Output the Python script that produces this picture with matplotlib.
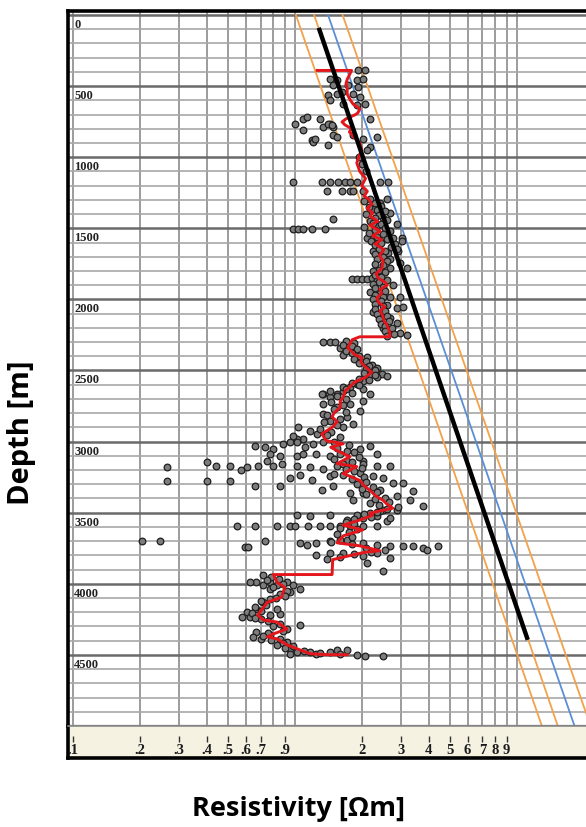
"""
Resistivity vs depth log plot (log x, depth downwards), recreated from a scanned figure.
Output: out.png
"""

import numpy as np
import matplotlib
matplotlib.use("Agg")
import matplotlib.pyplot as plt
from matplotlib.transforms import blended_transform_factory


# --- data ----------------------------------------------------------------------

# running average (red), as (depth m, resistivity ohm-m)
red_curve = [
    (390, 1.26), (390, 1.80), (453, 1.72), (480, 1.70), (520, 1.72), (557, 1.72),
    (600, 1.78), (627, 1.83), (660, 1.96), (690, 1.92), (703, 1.86), (730, 1.70),
    (752, 1.63), (773, 1.68), (800, 1.80), (822, 1.76), (857, 1.84), (900, 1.96),
    (947, 2.00), (990, 1.95), (1040, 1.90), (1100, 1.96), (1150, 2.08), (1200, 2.00),
    (1240, 2.12), (1274, 2.05), (1295, 2.15), (1330, 2.22), (1360, 2.12), (1393, 2.24),
    (1414, 2.18), (1450, 2.36), (1480, 2.18), (1520, 2.42), (1553, 2.24), (1580, 2.46),
    (1610, 2.30), (1650, 2.52), (1692, 2.40), (1730, 2.50), (1783, 2.46), (1820, 2.32),
    (1852, 2.38), (1880, 2.55), (1901, 2.60), (1930, 2.42), (1957, 2.46), (1990, 2.34),
    (2020, 2.38), (2054, 2.54), (2080, 2.42), (2110, 2.48), (2150, 2.52), (2180, 2.60),
    (2235, 2.68), (2263, 2.68), (2263, 1.96), (2284, 1.81), (2340, 1.73), (2389, 1.86),
    (2410, 2.00), (2440, 1.98), (2472, 2.07), (2514, 2.22), (2549, 2.07), (2584, 1.85),
    (2620, 1.75), (2646, 1.68), (2688, 1.65), (2716, 1.60), (2758, 1.60), (2800, 1.50),
    (2827, 1.47), (2860, 1.55), (2897, 1.48), (2946, 1.32), (2995, 1.39), (3015, 1.65),
    (3040, 1.45), (3064, 1.55), (3106, 1.77), (3155, 1.55), (3176, 1.90), (3224, 1.65),
    (3273, 1.96), (3310, 2.05), (3343, 2.18), (3380, 2.30), (3412, 2.49), (3440, 2.60),
    (3468, 2.76), (3503, 2.18), (3517, 2.24), (3552, 1.96), (3587, 1.65), (3621, 2.02),
    (3663, 1.65), (3712, 1.55), (3733, 1.96), (3767, 2.41), (3781, 2.02), (3830, 1.48),
    (3935, 1.47), (3935, 0.80), (3990, 0.83), (4025, 0.90), (4095, 0.87), (4130, 0.75),
    (4220, 0.68), (4255, 0.72), (4269, 0.83), (4318, 0.92), (4352, 0.80), (4373, 0.75),
    (4387, 0.83), (4429, 0.92), (4464, 1.05), (4492, 1.17), (4499, 1.44), (4499, 1.72),
]

# measured points (grey circles), split by depth zone
pts_upper = [
    (390, 1.92), (390, 2.07), (453, 1.44), (460, 1.55), (460, 1.90), (453, 2.02),
    (494, 1.48), (494, 1.73), (508, 1.92), (564, 1.41), (557, 1.55), (543, 1.63),
    (557, 1.82), (578, 1.96), (599, 1.44), (627, 1.65), (634, 1.90), (627, 2.07),
    (731, 2.18), (766, 1.00), (731, 1.09), (717, 1.13), (731, 1.30), (766, 1.44),
    (787, 1.48), (808, 1.09), (877, 1.19), (891, 1.21), (870, 1.23), (912, 1.41),
    (843, 1.48), (857, 1.55), (787, 1.34), (766, 1.41), (773, 1.47), (843, 1.82),
    (870, 2.02), (857, 2.34), (926, 2.18), (947, 2.11), (1000, 1.95), (1050, 2.00),
    (1100, 2.10), (1177, 0.98), (1177, 1.32), (1177, 1.44), (1177, 1.56), (1177, 1.68),
    (1177, 1.77), (1177, 1.90), (1177, 2.41), (1177, 2.62), (1240, 1.39), (1240, 1.63),
    (1240, 1.77), (1240, 1.82), (1240, 2.02), (1295, 2.18), (1323, 2.41), (1295, 2.60),
    (1365, 2.24), (1393, 2.68), (1435, 1.48), (1504, 0.98), (1504, 1.03), (1504, 1.09),
    (1504, 1.19), (1504, 1.36), (1449, 2.18), (1483, 2.34), (1428, 2.49), (1518, 2.68),
    (1469, 2.88), (1553, 2.22), (1588, 2.41), (1609, 2.82), (1567, 3.03), (1657, 2.29),
    (1671, 2.62), (1657, 2.91),
]

pts_middle = [
    (1567, 2.11), (1574, 2.34), (1567, 2.76), (1588, 3.03), (1643, 2.88), (1657, 2.24),
    (1692, 2.41), (1713, 2.68), (1741, 2.97), (1776, 3.20), (1776, 2.68), (1860, 1.81),
    (1860, 1.90), (1860, 2.00), (1860, 2.11), (1852, 2.22), (1866, 2.34), (1866, 2.60),
    (1901, 2.76), (1950, 2.18), (1957, 2.41), (1985, 2.68), (1985, 2.97), (2020, 2.34),
    (2040, 2.60), (2061, 2.88), (2054, 3.07), (2089, 2.24), (2124, 2.41), (2131, 2.68),
    (2166, 2.88), (2201, 2.49), (2215, 2.68), (2235, 2.97), (2249, 3.20), (2298, 1.34),
    (2298, 1.44), (2298, 1.51), (2340, 1.60), (2319, 1.72), (2368, 1.81), (2389, 1.65),
    (2410, 1.90), (2437, 2.00), (2403, 2.11), (2458, 2.22), (2479, 2.34), (2528, 2.46),
    (2542, 2.60), (2528, 2.18), (2549, 2.34), (2577, 2.02), (2598, 1.90), (2618, 1.77),
    (2646, 1.65), (2667, 1.55), (2688, 1.44), (2667, 1.34),
]

pts_lower = [
    (2667, 1.32), (2646, 1.44), (2618, 1.65), (2632, 2.02), (2667, 2.18), (2716, 2.02),
    (2737, 1.34), (2758, 1.55), (2737, 1.77), (2786, 1.96), (2806, 1.34), (2855, 1.44),
    (2827, 1.72), (2876, 1.82), (2897, 1.65), (2897, 1.03), (2925, 1.17), (2946, 1.26),
    (2981, 1.09), (2981, 1.02), (2960, 0.98), (3029, 0.66), (3036, 0.73), (3050, 0.80),
    (3015, 0.88), (3001, 0.95), (3001, 1.02), (3036, 1.11), (3015, 1.21), (3001, 1.34),
    (3085, 0.77), (3099, 0.86), (3099, 1.02), (3085, 1.09), (3085, 1.25), (3099, 1.44),
    (3064, 1.72), (3050, 1.96), (3029, 2.18), (3085, 2.34), (3134, 2.02), (3134, 1.72),
    (3176, 0.265), (3141, 0.40), (3169, 0.44), (3169, 0.51), (3203, 0.57), (3176, 0.61),
    (3169, 0.68), (3134, 0.75), (3169, 0.80), (3155, 0.87), (3169, 1.02), (3176, 1.17),
    (3190, 1.34), (3169, 1.55), (3176, 1.77), (3155, 2.02), (3169, 2.34), (3169, 2.68),
    (3280, 0.265), (3280, 0.40), (3280, 0.51), (3315, 0.66), (3315, 0.86), (3259, 0.95),
    (3238, 1.05), (3273, 1.19), (3245, 1.44), (3238, 1.65), (3224, 1.96), (3245, 2.24),
    (3259, 2.49), (3343, 1.32), (3315, 1.48), (3364, 1.77), (3364, 2.02), (3343, 2.41),
    (3294, 2.76), (3294, 3.07), (3350, 3.40), (3385, 2.88), (3412, 3.30), (3454, 3.77),
    (3412, 1.82), (3433, 2.18), (3482, 2.49), (3517, 1.02), (3524, 1.17), (3517, 1.44),
    (3552, 1.72), (3538, 2.02), (3524, 2.34), (3559, 2.60), (3593, 0.55), (3593, 0.66),
    (3593, 0.83), (3593, 0.95), (3593, 1.00), (3593, 1.14), (3593, 1.30), (3593, 1.44),
    (3593, 1.60), (3593, 1.77), (3593, 2.02), (3593, 2.34),
]

pts_bottom = [
    (3517, 1.90), (3503, 2.18), (3489, 2.41), (3482, 2.88), (3538, 2.68), (3698, 0.205),
    (3698, 0.246), (3740, 0.595), (3740, 0.614), (3698, 0.733), (3712, 1.05), (3726, 1.13),
    (3712, 1.25), (3698, 1.44), (3691, 1.72), (3712, 2.02), (3726, 2.34), (3733, 2.68),
    (3733, 3.07), (3733, 3.40), (3747, 3.77), (3733, 4.41), (3761, 3.93), (3795, 1.25),
    (3781, 1.44), (3781, 1.65), (3802, 2.02), (3781, 2.34), (3816, 2.68), (3851, 2.11),
    (3907, 2.49), (3935, 0.72), (3990, 0.67), (3990, 0.63), (3990, 0.77), (4011, 0.83),
    (3990, 0.92), (4011, 0.98), (4039, 1.05), (4060, 0.95), (4074, 0.86), (4039, 0.77),
    (4011, 0.72), (4109, 0.77), (4130, 0.72), (4178, 0.67), (4199, 0.61), (4234, 0.58),
    (4234, 0.63), (4248, 0.70), (4220, 0.77), (4213, 0.86), (4178, 0.83), (4339, 0.67),
    (4373, 0.65), (4387, 0.70), (4360, 0.77), (4387, 0.86), (4408, 0.92), (4429, 0.83),
    (4457, 0.95), (4478, 1.02), (4492, 0.95), (4290, 1.05), (4318, 0.92), (4478, 1.17),
    (4492, 1.25), (4478, 1.44), (4464, 1.55), (4464, 1.72), (4499, 1.90), (4506, 2.07),
    (4506, 2.49),
]

# the dense, overlapping points that hug the running average
pts_band = [
    (1310, 2.05), (1320, 2.30), (1340, 2.45), (1350, 2.15), (1370, 2.35), (1380, 2.55),
    (1400, 2.10), (1410, 2.40), (1430, 2.30), (1440, 2.60), (1460, 2.25), (1470, 2.45),
    (1490, 2.05), (1500, 2.55), (1510, 2.30), (1530, 2.15), (1540, 2.50), (1560, 2.35),
    (1575, 2.60), (1590, 2.20), (1600, 2.45), (1620, 2.30), (1630, 2.70), (1645, 2.40),
    (1660, 2.55), (1680, 2.30), (1700, 2.50), (1715, 2.35), (1730, 2.60), (1750, 2.30),
    (1760, 2.50), (1790, 2.40), (1800, 2.25), (1810, 2.55), (1830, 2.30), (1840, 2.45),
    (1875, 2.40), (1890, 2.25), (1910, 2.50), (1920, 2.30), (1940, 2.55), (1970, 2.30),
    (1980, 2.50), (2000, 2.25), (2010, 2.45), (2030, 2.30), (2045, 2.50), (2070, 2.30),
    (2080, 2.55), (2100, 2.35), (2115, 2.60), (2140, 2.40), (2150, 2.65), (2170, 2.45),
    (2190, 2.55), (2200, 2.75), (2220, 2.55), (2240, 2.80), (2255, 2.60),
    (2290, 1.70), (2305, 1.85), (2320, 1.65), (2330, 1.80), (2350, 1.90), (2360, 1.70),
    (2375, 1.80), (2395, 1.95), (2420, 1.85), (2430, 2.10), (2450, 1.95), (2465, 2.15),
    (2490, 2.10), (2500, 2.30), (2520, 2.05), (2535, 2.30), (2560, 1.95), (2570, 2.15),
    (2590, 1.80), (2605, 1.95), (2630, 1.70), (2655, 1.80), (2680, 1.55), (2700, 1.70),
    (2720, 1.45), (2745, 1.65), (2770, 1.50), (2790, 1.70), (2815, 1.40), (2840, 1.60),
    (2865, 1.35), (2885, 1.55), (2910, 1.30), (2930, 1.45), (2955, 1.40), (2970, 1.60),
    (3005, 1.50), (3025, 1.75), (3045, 1.55), (3070, 1.85), (3090, 1.60), (3110, 1.95),
    (3120, 1.50), (3145, 1.80), (3160, 1.65), (3185, 2.00), (3195, 1.70), (3210, 1.85),
    (3230, 1.50), (3250, 2.05), (3265, 1.80), (3285, 2.10), (3300, 1.90), (3320, 2.25),
    (3335, 2.00), (3355, 2.35), (3370, 2.10), (3395, 2.55), (3405, 2.30), (3425, 2.65),
    (3445, 2.40), (3460, 2.90), (3475, 2.60), (3495, 2.35), (3510, 2.05), (3530, 2.20),
    (3545, 1.85), (3565, 1.70), (3580, 1.85), (3605, 1.60), (3615, 1.90), (3635, 1.75),
    (3650, 1.55), (3670, 1.80), (3690, 1.60), (3705, 1.45), (3720, 1.80), (3745, 2.10),
    (3760, 2.55), (3775, 2.20), (3790, 1.85), (3810, 1.60), (3825, 1.40),
    (3950, 0.78), (3965, 0.85), (3975, 0.75), (4000, 0.88), (4020, 0.80), (4050, 0.92),
    (4085, 0.90), (4100, 0.82), (4120, 0.70), (4150, 0.74), (4160, 0.66), (4190, 0.70),
    (4205, 0.64), (4240, 0.66), (4260, 0.76), (4280, 0.86), (4300, 0.80), (4330, 0.88),
    (4345, 0.76), (4365, 0.72), (4395, 0.78), (4415, 0.88), (4440, 0.98), (4450, 0.90),
    (4470, 1.10), (4485, 1.30), (4495, 1.60),
]

# straight trend lines: (depth_top, res_top, depth_bottom, res_bottom)
trend_black = (90, 1.28, 4394, 11.2)
envelope_orange = [
    (0, 1.01, 5000, 12.97),
    (0, 1.22, 5000, 15.3),
    (0, 1.64, 5000, 21.5),
]
envelope_blue = (0, 1.41, 5000, 18.2)

# axis ticks / labels
depth_major = list(range(0, 5001, 500))
depth_minor = list(range(0, 5001, 100))
res_grid = [0.1, 0.2, 0.3, 0.4, 0.5, 0.6, 0.7, 0.8, 0.9,
            1, 2, 3, 4, 5, 6, 7, 8, 9, 10]
res_tick_pos = [0.1, 0.2, 0.3, 0.4, 0.5, 0.6, 0.7, 0.9, 2, 3, 4, 5, 6, 7, 8, 9]
res_tick_lbl = [".1", ".2", ".3", ".4", ".5", ".6", ".7", ".9",
                "2", "3", "4", "5", "6", "7", "8", "9"]

X_LIM = (0.0949, 20.5)
SERIF = ["Liberation Serif", "DejaVu Serif"]
SANS = ["Open Sans", "DejaVu Sans"]


def unzip(pairs):
    d = np.array([p[0] for p in pairs], dtype=float)
    r = np.array([p[1] for p in pairs], dtype=float)
    return d, r


def main():
    W, H = 586, 827
    fig = plt.figure(figsize=(W / 100, H / 100), dpi=100)

    ax = fig.add_axes([68 / W, 1 - 726 / H, 518 / W, 715 / H])
    band = fig.add_axes([68 / W, 1 - 758 / H, 518 / W, 32 / H])

    ax.set_xscale("log")
    ax.set_xlim(*X_LIM)
    ax.set_ylim(5000, -28)

    # grid (drawn as ticks so the library places them)
    ax.set_xticks(res_grid)
    ax.set_xticks([], minor=True)
    ax.set_yticks(depth_major)
    ax.set_yticks(depth_minor, minor=True)
    ax.grid(True, axis="x", which="major", color="#9c9c9c", lw=1.4, zorder=0)
    ax.grid(True, axis="y", which="minor", color="#a8a8a8", lw=1.2, zorder=0)
    ax.grid(True, axis="y", which="major", color="#6a6a6a", lw=1.8, zorder=0)
    ax.tick_params(which="both", length=0, labelbottom=False, labelleft=False)

    for name in ("left", "top"):
        ax.spines[name].set_linewidth(2.6)
        ax.spines[name].set_color("black")
    ax.spines["right"].set_visible(False)
    ax.spines["bottom"].set_color("#6a6a6a")
    ax.spines["bottom"].set_linewidth(1.6)

    # depth labels inside, just under each major line
    ytrans = ax.get_yaxis_transform()
    for d in depth_major[:-1]:
        ax.text(0.012, d + 28, str(d), transform=ytrans, ha="left", va="top",
                fontsize=9, fontweight="bold", family=SERIF, color="#222222",
                zorder=6)

    # envelope lines
    for d0, r0, d1, r1 in envelope_orange:
        ax.plot([r0, r1], [d0, d1], color="#f2a24a", lw=1.3, zorder=2)
    d0, r0, d1, r1 = envelope_blue
    ax.plot([r0, r1], [d0, d1], color="#5b8ed4", lw=1.3, zorder=2)

    # measured points
    for zone in (pts_upper, pts_middle, pts_lower, pts_bottom, pts_band):
        d, r = unzip(zone)
        ax.plot(r, d, "o", ms=4.8, mfc="#7c7c7c", mec="#1e1e1e", mew=0.9,
                ls="none", zorder=3)

    d, r = unzip(red_curve)
    ax.plot(r, d, color="#e3161c", lw=2.1, zorder=4)

    d0, r0, d1, r1 = trend_black
    ax.plot([r0, r1], [d0, d1], color="black", lw=3.2, zorder=5,
            solid_capstyle="butt")

    # bottom scale band
    band.set_xscale("log")
    band.set_xlim(*X_LIM)
    band.set_ylim(0, 1)
    band.set_facecolor("#f5f2e2")
    band.set_xticks([])
    band.set_xticks([], minor=True)
    band.set_yticks([])
    band.spines["right"].set_visible(False)
    band.spines["top"].set_color("#8a8a8a")
    band.spines["top"].set_linewidth(1.2)
    for name in ("left", "bottom"):
        band.spines[name].set_linewidth(2.6)
        band.spines[name].set_color("black")

    btrans = blended_transform_factory(band.transData, band.transAxes)
    band.vlines(res_tick_pos, 0.5, 0.68, transform=btrans, color="#333333", lw=1.0)
    for x, lbl in zip(res_tick_pos, res_tick_lbl):
        band.text(x, 0.24, lbl, transform=btrans, ha="center", va="center",
                  fontsize=10.5, fontweight="bold", family=SERIF, color="#1a1a1a",
                  clip_on=True)

    fig.text(299 / W, 1 - 816 / H, "Resistivity [\u03a9m]", ha="center", va="baseline",
             fontsize=19.5, fontweight="bold", family=SANS)
    fig.text(22 / W, 1 - 433 / H, "Depth [m]", ha="center", va="center",
             rotation=90, fontsize=21, fontweight="bold", family=SANS)

    fig.savefig("out.png", dpi=100)
    plt.close(fig)


if __name__ == "__main__":
    main()
